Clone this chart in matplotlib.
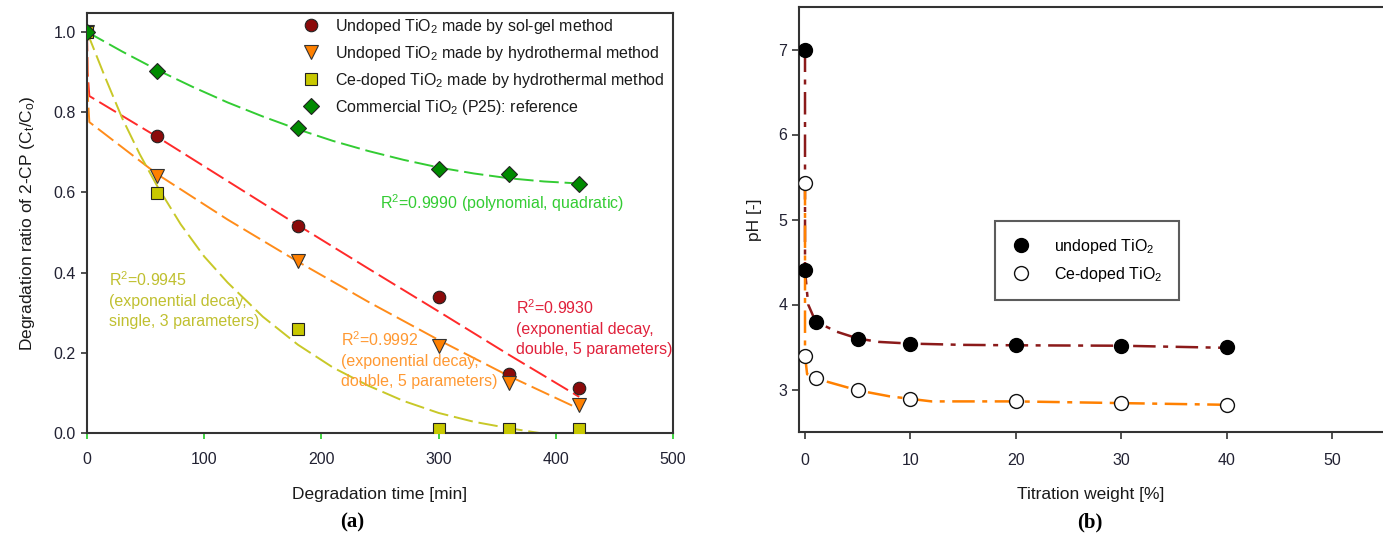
import matplotlib
matplotlib.use("Agg")
import matplotlib.pyplot as plt

plt.rcParams['font.family'] = ['Liberation Sans', 'DejaVu Sans']
plt.rcParams['mathtext.fontset'] = 'custom'
plt.rcParams['mathtext.rm'] = 'Liberation Sans'
plt.rcParams['mathtext.it'] = 'Liberation Sans'

# ---------------- Panel (a) data ----------------
time_min = [0, 60, 180, 300, 360, 420]
solgel = [1.0, 0.74, 0.515, 0.338, 0.147, 0.113]
hydro = [1.0, 0.64, 0.43, 0.218, 0.125, 0.07]
ce_hydro = [1.0, 0.598, 0.259, 0.01, 0.01, 0.01]
p25 = [1.0, 0.903, 0.76, 0.657, 0.645, 0.62]

# fitted curves
fit_green_x = [0, 30, 60, 90, 120, 150, 180, 210, 240, 270, 300, 330, 360, 390, 420]
fit_green_y = [1.0, 0.951, 0.905, 0.863, 0.824, 0.789, 0.757, 0.728, 0.703, 0.681, 0.662, 0.647, 0.635, 0.627, 0.622]
fit_red_x = [0, 0.5, 2, 60, 120, 180, 240, 300, 360, 420]
fit_red_y = [1.0, 0.9, 0.84, 0.738, 0.628, 0.518, 0.41, 0.303, 0.195, 0.09]
fit_orange_x = [0, 0.5, 2, 60, 120, 180, 240, 300, 360, 420]
fit_orange_y = [1.0, 0.85, 0.775, 0.645, 0.532, 0.427, 0.327, 0.232, 0.142, 0.06]
fit_yellow_x = [0, 15, 30, 45, 60, 80, 100, 120, 150, 180, 210, 240, 270, 300, 330, 360, 386]
fit_yellow_y = [1.0, 0.89, 0.785, 0.695, 0.615, 0.52, 0.44, 0.375, 0.29, 0.22, 0.163, 0.118, 0.08, 0.05, 0.028, 0.012, 0.0]

legend_a = ["Undoped TiO$_2$ made by sol-gel method",
            "Undoped TiO$_2$ made by hydrothermal method",
            "Ce-doped TiO$_2$ made by hydrothermal method",
            "Commercial TiO$_2$ (P25): reference"]

# ---------------- Panel (b) data ----------------
titr = [0, 0, 1, 5, 10, 20, 30, 40]
ph_undoped = [7.0, 4.4, 3.8, 3.6, 3.53, 3.52, 3.51, 3.5]
ph_ce = [5.43, 3.4, 3.13, 2.99, 2.885, 2.86, 2.84, 2.82]

line_undoped_x = [0, 0, 0.3, 1, 3, 5, 7, 10, 15, 20, 30, 40]
line_undoped_y = [7.0, 4.4, 4.0, 3.8, 3.68, 3.6, 3.56, 3.54, 3.525, 3.52, 3.515, 3.49]
line_ce_x = [0, 0, 0.2, 1, 3, 5, 8, 10, 12, 20, 30, 40]
line_ce_y = [5.43, 3.4, 3.18, 3.13, 3.06, 2.99, 2.92, 2.89, 2.86, 2.86, 2.84, 2.82]

legend_b = ["undoped TiO$_2$", "Ce-doped TiO$_2$"]

W, H = 1383, 542
fig = plt.figure(figsize=(W / 100, H / 100), dpi=100)

def frac(x0, y0, x1, y1):
    return [x0 / W, 1 - y1 / H, (x1 - x0) / W, (y1 - y0) / H]

tick_col = '#222233'
spine_col = '#333333'

# ---------------- Panel (a) ----------------
ax = fig.add_axes(frac(87, 13, 673, 433))
ax.set_xlim(0, 500)
ax.set_ylim(0, 1.047)
dash = (0, (10, 3))
ax.plot(fit_green_x, fit_green_y, color='#33cc33', lw=1.4, linestyle=dash, zorder=2)
ax.plot(fit_red_x, fit_red_y, color='#ff2a2a', lw=1.4, linestyle=dash, zorder=2)
ax.plot(fit_orange_x, fit_orange_y, color='#ff8c1a', lw=1.4, linestyle=dash, zorder=2)
ax.plot(fit_yellow_x, fit_yellow_y, color='#c8c828', lw=1.4, linestyle=dash, zorder=2)

ms = 9
h1, = ax.plot(time_min, solgel, 'o', color='#8b0a0a', mec='#222222', mew=0.8, ms=ms, ls='none', zorder=3)
h2, = ax.plot(time_min, hydro, 'v', color='#ff8000', mec='#333333', mew=0.8, ms=ms + 0.5, ls='none', zorder=3)
h3, = ax.plot(time_min, ce_hydro, 's', color='#c8c800', mec='#222222', mew=0.8, ms=ms - 0.8, ls='none', zorder=3)
h4, = ax.plot(time_min, p25, 'D', color='#008a00', mec='#222222', mew=0.8, ms=ms - 0.8, ls='none', zorder=4)

leg = ax.legend([h1, h2, h3, h4], legend_a, loc='upper left', bbox_to_anchor=(0.364, 0.998),
                frameon=False, fontsize=11.5, handlelength=1.0, handletextpad=1.0,
                labelspacing=0.5, borderpad=0.2, borderaxespad=0.0)
for t in leg.get_texts():
    t.set_color('#1a1a1a')

ax.set_xticks([0, 100, 200, 300, 400, 500])
ax.set_yticks([0.0, 0.2, 0.4, 0.6, 0.8, 1.0])
ax.set_yticklabels(['0.0', '0.2', '0.4', '0.6', '0.8', '1.0'])
ax.tick_params(axis='x', direction='out', length=4, width=1.2, color='#22cc22',
               labelsize=11.5, labelcolor=tick_col, pad=10)
ax.tick_params(axis='y', direction='out', length=4, width=1.2, color=spine_col,
               labelsize=11.5, labelcolor=tick_col, pad=4)
for s in ax.spines.values():
    s.set_color(spine_col)
    s.set_linewidth(1.5)
ax.set_xlabel('Degradation time [min]', fontsize=12.5, color='#1a1a1a', labelpad=14)
ax.set_ylabel('Degradation ratio of 2-CP (C$_t$/C$_o$)', fontsize=12.5, color='#1a1a1a', labelpad=12)

txt_kw = dict(fontsize=11.5, va='top', ha='left', linespacing=1.4)
ax.text(250, 0.6, 'R$^2$=0.9990 (polynomial, quadratic)', color='#33cc33', **txt_kw)
ax.text(19, 0.405, 'R$^2$=0.9945\n(exponential decay,\nsingle, 3 parameters)', color='#c0c030', **txt_kw)
ax.text(217, 0.255, 'R$^2$=0.9992\n(exponential decay,\ndouble, 5 parameters)', color='#ff9933', **txt_kw)
ax.text(366, 0.335, 'R$^2$=0.9930\n(exponential decay,\ndouble, 5 parameters)', color='#e0203a', **txt_kw)

fig.text(352 / W, 1 - 522 / H, '(a)', fontsize=15, fontweight='bold',
         family=['Liberation Serif', 'DejaVu Serif'], ha='center', va='center')

# ---------------- Panel (b) ----------------
bx = fig.add_axes(frac(799, 7, 1383, 432))
bx.set_xlim(-0.57, 54.8)
bx.set_ylim(2.5, 7.5)
dashdot = (0, (9, 3, 2, 3))
bx.plot(line_undoped_x, line_undoped_y, color='#8b1a1a', lw=1.8, linestyle=dashdot, zorder=2)
bx.plot(line_ce_x, line_ce_y, color='#ff8000', lw=1.8, linestyle=dashdot, zorder=2)
g1, = bx.plot(titr, ph_undoped, 'o', color='black', mec='black', ms=10, ls='none', zorder=3)
g2, = bx.plot(titr, ph_ce, 'o', color='white', mec='#111111', mew=1.0, ms=10, ls='none', zorder=3)

lg = bx.legend([g1, g2], legend_b, loc='upper left', bbox_to_anchor=(0.336, 0.497),
               frameon=True, fancybox=False, edgecolor='#333333', fontsize=11.5,
               handlelength=1.2, handletextpad=1.5, labelspacing=0.55,
               borderpad=1.0, borderaxespad=0.0)
lg.get_frame().set_linewidth(1.5)

bx.set_xticks([0, 10, 20, 30, 40, 50])
bx.set_yticks([3, 4, 5, 6, 7])
bx.tick_params(direction='out', length=5, width=1.2, color=spine_col,
               labelsize=11.5, labelcolor=tick_col)
bx.tick_params(axis='x', pad=10)
bx.spines['right'].set_visible(False)
for s in ['left', 'top', 'bottom']:
    bx.spines[s].set_color(spine_col)
    bx.spines[s].set_linewidth(1.5)
bx.set_xlabel('Titration weight [%]', fontsize=12.5, color='#1a1a1a', labelpad=14)
bx.set_ylabel('pH [-]', fontsize=12.5, color='#1a1a1a', labelpad=12)

fig.text(1090 / W, 1 - 522 / H, '(b)', fontsize=15, fontweight='bold',
         family=['Liberation Serif', 'DejaVu Serif'], ha='center', va='center')

fig.savefig('out.png', dpi=100)
